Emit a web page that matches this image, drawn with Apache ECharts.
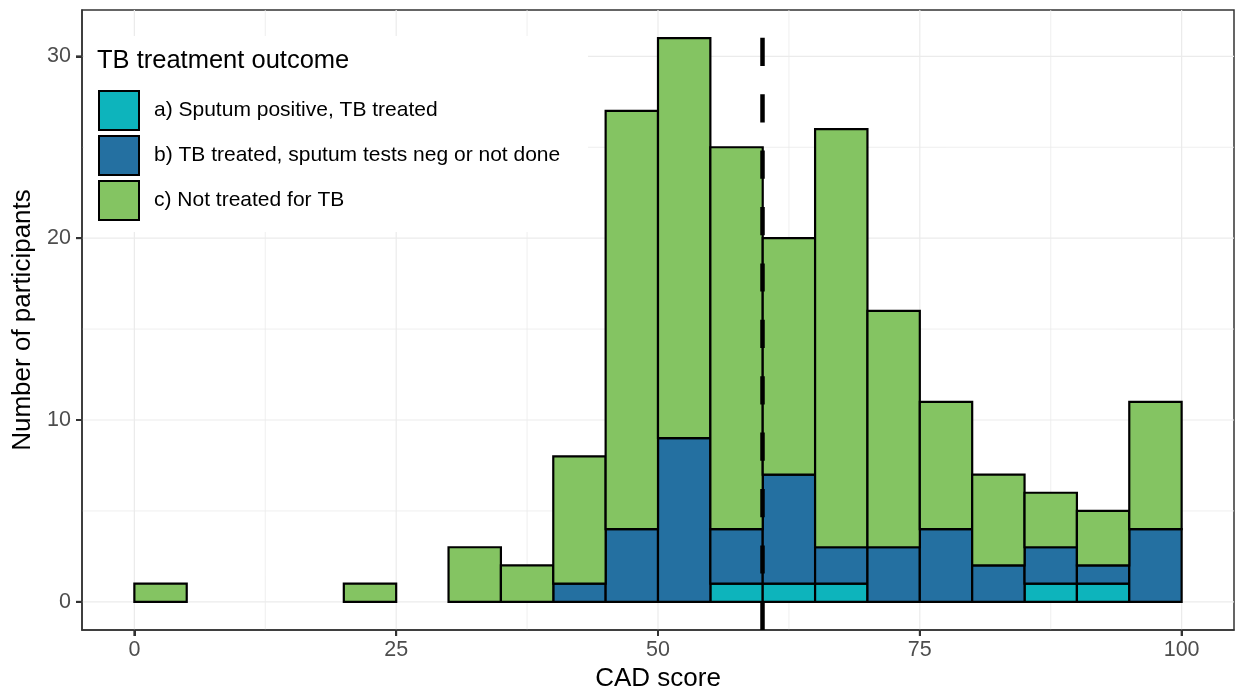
<!DOCTYPE html>
<html>
<head>
<meta charset="utf-8">
<script src="https://cdn.jsdelivr.net/npm/echarts@6/dist/echarts.min.js"></script>
<style>
html,body{margin:0;padding:0;background:#fff;}
#chart{width:1236px;height:698px;}
</style>
</head>
<body>
<div id="chart"></div>
<script>
// ---- data ----
const binStart = [0,5,10,15,20,25,30,35,40,45,50,55,60,65,70,75,80,85,90,95];
const binWidth = 5;
const groupNames = ['a) Sputum positive, TB treated', 'b) TB treated, sputum tests neg or not done', 'c) Not treated for TB'];
const countsA = [0,0,0,0,0,0,0,0,0,0,0,1,1,1,0,0,0,1,1,0];
const countsB = [0,0,0,0,0,0,0,0,1,4,9,3,6,2,3,4,2,2,1,4];
const countsC = [1,0,0,0,1,0,3,2,7,23,22,21,13,23,13,7,5,3,3,7];
const cutoff = [60];
const xTicks = [0,25,50,75,100];
const xMinor = [12.5,37.5,62.5,87.5];
const yTicks = [0,10,20,30];
const yMinor = [5,15,25];

const colors = ['#0DB4BC', '#2470A1', '#84C462'];
const FONT = 'Liberation Sans, Arial, Helvetica, sans-serif';
const X_MIN = -5, X_MAX = 105, Y_MIN = -1.55, Y_MAX = 32.55;

// build stacked rectangles
const groups = [countsA, countsB, countsC];
const base = binStart.map(() => 0);
const seriesData = groups.map(counts => {
  const out = [];
  counts.forEach((c, i) => {
    if (c > 0) out.push([binStart[i], binStart[i] + binWidth, base[i], base[i] + c]);
    base[i] += c;
  });
  return out;
});

const gridData = [];
xTicks.forEach(v => gridData.push([v, 0, 0, 1]));
xMinor.forEach(v => gridData.push([v, 0, 0, 0]));
yTicks.forEach(v => gridData.push([0, v, 1, 1]));
yMinor.forEach(v => gridData.push([0, v, 1, 0]));

const chart = echarts.init(document.getElementById('chart'), null, {renderer: 'canvas'});

const barSeries = seriesData.map((data, gi) => ({
  name: groupNames[gi],
  type: 'custom',
  z: 2,
  silent: true,
  itemStyle: {color: colors[gi], borderColor: '#000', borderWidth: 2},
  encode: {x: [0, 1], y: [2, 3]},
  data: data,
  renderItem: function (params, api) {
    const p0 = api.coord([api.value(0), api.value(3)]);
    const p1 = api.coord([api.value(1), api.value(2)]);
    return {
      type: 'rect',
      shape: {x: p0[0], y: p0[1], width: p1[0] - p0[0], height: p1[1] - p0[1]},
      style: {fill: colors[gi], stroke: '#000', lineWidth: 2.2}
    };
  }
}));

barSeries[2].markLine = {
  silent: true,
  symbol: 'none',
  z: 5,
  label: {show: false},
  lineStyle: {color: '#000', width: 4.5, type: [28.2, 28.2]},
  data: cutoff.map(v => ({xAxis: v}))
};

const TICK_LEN = 6;

const option = {
  animation: false,
  backgroundColor: '#fff',
  grid: {left: 82, right: 2, top: 10, bottom: 68, show: true, borderColor: '#333333', borderWidth: 1.5, backgroundColor: 'transparent', containLabel: false},
  xAxis: {
    type: 'value', min: X_MIN, max: X_MAX,
    name: 'CAD score', nameLocation: 'middle', nameGap: 35,
    nameTextStyle: {fontSize: 26, color: '#000', fontFamily: FONT},
    axisLine: {show: true, onZero: false, lineStyle: {color: '#333', width: 1.5}},
    axisTick: {show: true, length: TICK_LEN, lineStyle: {color: '#333', width: 2}, customValues: xTicks},
    axisLabel: {customValues: xTicks, margin: 9, fontSize: 21.5, color: '#4D4D4D', fontFamily: FONT},
    splitLine: {show: false}
  },
  yAxis: {
    type: 'value', min: Y_MIN, max: Y_MAX,
    name: 'Number of participants', nameLocation: 'middle', nameGap: 44, nameRotate: 90,
    nameTextStyle: {fontSize: 26, color: '#000', fontFamily: FONT},
    axisLine: {show: true, onZero: false, lineStyle: {color: '#333', width: 1.5}},
    axisTick: {show: true, length: TICK_LEN, lineStyle: {color: '#333', width: 2}, customValues: yTicks},
    axisLabel: {customValues: yTicks, margin: 11, fontSize: 21.5, color: '#4D4D4D', fontFamily: FONT},
    splitLine: {show: false}
  },
  title: {
    text: 'TB treatment outcome', left: 97, top: 48, padding: 0, z: 8,
    textStyle: {fontSize: 25.5, fontWeight: 'normal', color: '#000', fontFamily: FONT}
  },
  legend: {
    orient: 'vertical', left: 98, top: 90, padding: 0, z: 8,
    itemWidth: 40, itemHeight: 39, itemGap: 4,
    icon: 'rect', selectedMode: false,
    itemStyle: {borderColor: '#000', borderWidth: 2},
    textStyle: {fontSize: 21, color: '#000', fontFamily: FONT, padding: [0, 0, 0, 10]},
    data: groupNames
  },
  graphic: {
    elements: [{
      id: 'legendBg',
      type: 'rect', left: 84, top: 36, z: 1, silent: true,
      shape: {width: 504, height: 196},
      style: {fill: '#fff'}
    }]
  },
  series: [{
    type: 'custom', name: 'grid', z: 0, silent: true,
    data: gridData,
    renderItem: function (params, api) {
      const cs = params.coordSys;
      const isY = api.value(2) === 1;
      const w = api.value(3) === 1 ? 1.2 : 0.8;
      if (!isY) {
        const x = api.coord([api.value(0), 0])[0];
        return {type: 'line', shape: {x1: x, y1: cs.y, x2: x, y2: cs.y + cs.height}, style: {stroke: '#EBEBEB', lineWidth: w}};
      } else {
        const y = api.coord([0, api.value(1)])[1];
        return {type: 'line', shape: {x1: cs.x, y1: y, x2: cs.x + cs.width, y2: y}, style: {stroke: '#EBEBEB', lineWidth: w}};
      }
    }
  }].concat(barSeries)
};
chart.setOption(option);

// extra tick marks placed through the chart's scales
const tickEls = [];
xTicks.forEach((v, i) => {
  const p = chart.convertToPixel({gridIndex: 0}, [v, Y_MIN]);
  tickEls.push({id: 'xt' + i, type: 'rect', z: 100, silent: true,
    shape: {x: p[0] - 1, y: p[1], width: 2, height: TICK_LEN},
    style: {fill: '#333333'}});
});
yTicks.forEach((v, i) => {
  const p = chart.convertToPixel({gridIndex: 0}, [X_MIN, v]);
  tickEls.push({id: 'yt' + i, type: 'rect', z: 100, silent: true,
    shape: {x: p[0] - TICK_LEN, y: p[1] - 1, width: TICK_LEN, height: 2},
    style: {fill: '#333333'}});
});
chart.setOption({graphic: {elements: tickEls}});
</script>
</body>
</html>
